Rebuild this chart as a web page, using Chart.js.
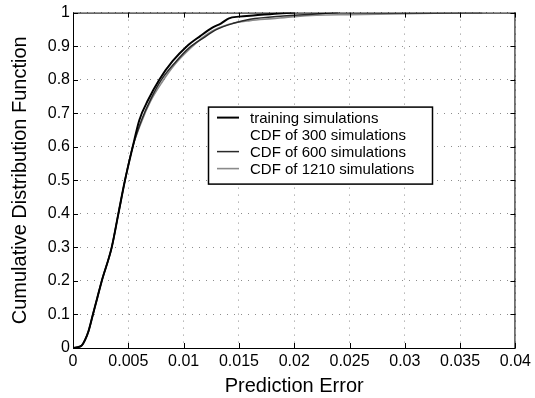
<!DOCTYPE html>
<html>
<head>
<meta charset="utf-8">
<script src="https://cdn.jsdelivr.net/npm/chart.js@4.4.1/dist/chart.umd.min.js"></script>
<style>
  html, body { margin: 0; padding: 0; background: #fff; }
  #wrap { width: 535px; height: 398px; }
</style>
</head>
<body>
<div id="wrap"><canvas id="grafico" width="535" height="398"></canvas></div>
<script>
// tick values / labels
const xTicks = [0, 0.005, 0.01, 0.015, 0.02, 0.025, 0.03, 0.035, 0.04];
const xTickLabels = ["0", "0.005", "0.01", "0.015", "0.02", "0.025", "0.03", "0.035", "0.04"];
const yTicks = [0, 0.1, 0.2, 0.3, 0.4, 0.5, 0.6, 0.7, 0.8, 0.9, 1];
const yTickLabels = ["0", "0.1", "0.2", "0.3", "0.4", "0.5", "0.6", "0.7", "0.8", "0.9", "1"];

const seriesNames = ["training simulations", "CDF of 300 simulations", "CDF of 600 simulations", "CDF of 1210 simulations"];

// training simulations (black)
const trainErr = [0, 0.0004, 0.0008, 0.0011, 0.0014, 0.0018, 0.0022, 0.0026, 0.0035, 0.0041, 0.0047, 0.0054, 0.006, 0.0068, 0.0078, 0.009, 0.0103, 0.0115, 0.0126, 0.0134, 0.0141, 0.015, 0.0165, 0.018, 0.02];
const trainCdf = [0, 0.002, 0.008, 0.025, 0.05, 0.1, 0.15, 0.2, 0.3, 0.4, 0.5, 0.6, 0.68, 0.74, 0.8, 0.855, 0.9, 0.93, 0.955, 0.968, 0.983, 0.988, 0.992, 0.996, 1];

// CDF of 300 simulations (not visible in the picture)
const cdf300Err = [0, 0.0008, 0.0014, 0.0022, 0.0035, 0.0047, 0.0054, 0.0068, 0.009, 0.0115, 0.014, 0.018, 0.022];
const cdf300Val = [0, 0.008, 0.05, 0.15, 0.3, 0.5, 0.6, 0.73, 0.85, 0.925, 0.965, 0.985, 1];

// CDF of 600 simulations (dark)
const cdf600Err = [0, 0.0008, 0.0014, 0.0018, 0.0022, 0.0026, 0.0035, 0.0041, 0.0047, 0.0054, 0.0062, 0.007, 0.008, 0.0092, 0.0105, 0.0118, 0.013, 0.0145, 0.016, 0.019, 0.024];
const cdf600Val = [0, 0.008, 0.05, 0.1, 0.15, 0.2, 0.3, 0.4, 0.5, 0.6, 0.68, 0.74, 0.8, 0.85, 0.895, 0.925, 0.95, 0.968, 0.98, 0.99, 1];

// CDF of 1210 simulations (grey)
const cdf1210Err = [0, 0.0004, 0.0008, 0.0011, 0.0014, 0.0018, 0.0022, 0.0026, 0.0035, 0.0041, 0.0047, 0.0054, 0.0062, 0.007, 0.008, 0.0092, 0.0105, 0.0117, 0.0126, 0.0141, 0.016, 0.018, 0.02, 0.022, 0.025, 0.03, 0.034, 0.037];
const cdf1210Val = [0, 0.002, 0.008, 0.025, 0.05, 0.1, 0.15, 0.2, 0.3, 0.4, 0.5, 0.6, 0.675, 0.735, 0.79, 0.845, 0.89, 0.925, 0.945, 0.965, 0.976, 0.982, 0.988, 0.992, 0.994, 0.997, 0.999, 1];

const cores = ["#000000", "#ffffff", "#2a2a2a", "#8a8a8a"];
const larguras = [2, 1.5, 1.5, 1.6];

const FONTE = "'Liberation Sans', Arial, sans-serif";

function pontos(xs, ys) {
  return xs.map((x, i) => ({ x: x, y: ys[i] }));
}

// moldura com marcas para dentro (estilo MATLAB) + legenda
const molduraPlugin = {
  id: "moldura",
  afterDraw(chart) {
    const { ctx, chartArea: a, scales } = chart;
    ctx.save();
    ctx.strokeStyle = "#000";
    ctx.lineWidth = 1;
    ctx.strokeRect(a.left + 0.5, a.top + 0.5, a.right - a.left - 1, a.bottom - a.top);
    const tl = 5;
    ctx.beginPath();
    xTicks.forEach(v => {
      const px = Math.round(scales.x.getPixelForValue(v)) + 0.5;
      ctx.moveTo(px, a.bottom); ctx.lineTo(px, a.bottom - tl);
      ctx.moveTo(px, a.top); ctx.lineTo(px, a.top + tl);
    });
    yTicks.forEach(v => {
      const py = Math.round(scales.y.getPixelForValue(v)) + 0.5;
      ctx.moveTo(a.left, py); ctx.lineTo(a.left + tl, py);
      ctx.moveTo(a.right, py); ctx.lineTo(a.right - tl, py);
    });
    ctx.stroke();

    // legenda
    const lx = a.left + 135, ly = a.top + 94, lw = 224, lh = 77;
    ctx.fillStyle = "#fff";
    ctx.fillRect(lx, ly, lw, lh);
    ctx.strokeStyle = "#000";
    ctx.lineWidth = 1.5;
    ctx.strokeRect(lx + 0.5, ly + 0.5, lw, lh);
    ctx.font = "15px " + FONTE;
    ctx.textBaseline = "middle";
    chart.data.datasets.forEach((ds, i) => {
      const y = ly + 11 + i * 17;
      ctx.strokeStyle = ds.borderColor;
      ctx.lineWidth = ds.borderWidth;
      ctx.beginPath();
      ctx.moveTo(lx + 9, y); ctx.lineTo(lx + 31, y);
      ctx.stroke();
      ctx.fillStyle = "#000";
      ctx.fillText(ds.label, lx + 42, y + 1);
    });
    ctx.restore();
  }
};

const ctx = document.getElementById("grafico").getContext("2d");

const datasets = [
  { label: seriesNames[0], data: pontos(trainErr, trainCdf), order: 1 },
  { label: seriesNames[1], data: pontos(cdf300Err, cdf300Val), order: 4 },
  { label: seriesNames[2], data: pontos(cdf600Err, cdf600Val), order: 2 },
  { label: seriesNames[3], data: pontos(cdf1210Err, cdf1210Val), order: 3 }
].map((d, i) => Object.assign(d, {
  borderColor: cores[i],
  backgroundColor: cores[i],
  borderWidth: larguras[i],
  showLine: true,
  pointRadius: 0,
  cubicInterpolationMode: "monotone",
  fill: false
}));

const chart = new Chart(ctx, {
  type: "scatter",
  data: { datasets: datasets },
  options: {
    responsive: false,
    animation: false,
    layout: { padding: { left: 0, right: 18, top: 5, bottom: 0 } },
    plugins: { legend: { display: false }, tooltip: { enabled: false } },
    scales: {
      x: {
        type: "linear",
        min: 0, max: 0.04,
        afterBuildTicks: s => { s.ticks = xTicks.map(v => ({ value: v })); },
        afterFit: s => { s.height = 50; },
        ticks: {
          color: "#000",
          font: { family: FONTE, size: 16 },
          padding: 4,
          maxRotation: 0,
          callback: (v) => xTickLabels[xTicks.indexOf(v)]
        },
        grid: { color: "#8c8c8c", lineWidth: 1, drawTicks: false },
        border: { display: false, dash: [1, 6] },
        title: { display: true, text: "Prediction Error", color: "#000", font: { family: FONTE, size: 20 }, padding: { top: 0, bottom: 0 } }
      },
      y: {
        type: "linear",
        min: 0, max: 1,
        afterBuildTicks: s => { s.ticks = yTicks.map(v => ({ value: v })); },
        afterFit: s => { s.width = 73; },
        ticks: {
          color: "#000",
          font: { family: FONTE, size: 16 },
          padding: 3,
          callback: (v) => yTickLabels[yTicks.indexOf(v)]
        },
        grid: { color: "#8c8c8c", lineWidth: 1, drawTicks: false },
        border: { display: false, dash: [1, 6] },
        title: { display: true, text: "Cumulative Distribution Function", color: "#000", font: { family: FONTE, size: 20 }, padding: { top: 8, bottom: 0 } }
      }
    }
  },
  plugins: [molduraPlugin]
});
</script>
</body>
</html>
